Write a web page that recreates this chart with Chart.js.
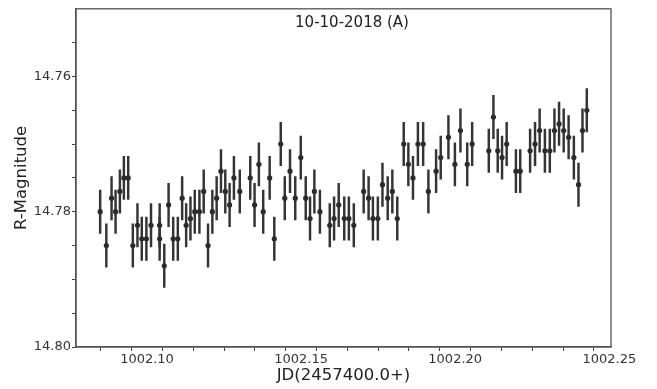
<!DOCTYPE html>
<html>
<head>
<meta charset="utf-8">
<script src="https://cdn.jsdelivr.net/npm/chart.js@4.4.1/dist/chart.umd.min.js"></script>
<style>
  html, body { margin: 0; padding: 0; background: #fff; }
</style>
</head>
<body>
<canvas id="lc" width="657" height="389"></canvas>
<script>
// light curve, R band, 10-10-2018 (A)
const jd = [
  1002.0848, 1002.0868, 1002.0885, 1002.0898, 1002.0912, 1002.0925, 1002.0939, 1002.0954,
  1002.0969, 1002.0983, 1002.0998, 1002.1013, 1002.1041, 1002.1041, 1002.1056, 1002.1070,
  1002.1085, 1002.1100, 1002.1114, 1002.1127, 1002.1141, 1002.1155, 1002.1170, 1002.1184,
  1002.1198, 1002.1212, 1002.1226, 1002.1240, 1002.1254, 1002.1268, 1002.1282, 1002.1301,
  1002.1335, 1002.1349, 1002.1363, 1002.1377, 1002.1398, 1002.1413, 1002.1434, 1002.1447,
  1002.1464, 1002.1481, 1002.1499, 1002.1515, 1002.1529, 1002.1543, 1002.1561, 1002.1593,
  1002.1607, 1002.1622, 1002.1640, 1002.1655, 1002.1671, 1002.1703, 1002.1719, 1002.1733,
  1002.1749, 1002.1764, 1002.1781, 1002.1796, 1002.1812, 1002.1833, 1002.1848, 1002.1863,
  1002.1879, 1002.1896, 1002.1913, 1002.1938, 1002.1953, 1002.1978, 1002.1999, 1002.2017,
  1002.2039, 1002.2055, 1002.2109, 1002.2124, 1002.2138, 1002.2152, 1002.2167, 1002.2197,
  1002.2211, 1002.2243, 1002.2259, 1002.2274, 1002.2291, 1002.2307, 1002.2322, 1002.2337,
  1002.2352, 1002.2368, 1002.2385, 1002.2400, 1002.2413, 1002.2427
];
const rMag = [
  14.780, 14.785, 14.778, 14.780, 14.777, 14.775, 14.775, 14.785,
  14.782, 14.784, 14.784, 14.782, 14.782, 14.784, 14.788, 14.779,
  14.784, 14.784, 14.778, 14.782, 14.781, 14.780, 14.780, 14.777,
  14.785, 14.780, 14.778, 14.774, 14.777, 14.779, 14.775, 14.777,
  14.775, 14.779, 14.773, 14.780, 14.775, 14.784, 14.770, 14.778,
  14.774, 14.778, 14.772, 14.778, 14.781, 14.777, 14.780, 14.782,
  14.781, 14.779, 14.781, 14.781, 14.782, 14.777, 14.778, 14.781,
  14.781, 14.776, 14.778, 14.777, 14.781, 14.770, 14.773, 14.775,
  14.770, 14.770, 14.777, 14.774, 14.772, 14.769, 14.773, 14.768,
  14.773, 14.770, 14.771, 14.766, 14.771, 14.772, 14.770, 14.774,
  14.774, 14.771, 14.770, 14.768, 14.771, 14.771, 14.768, 14.767,
  14.768, 14.769, 14.772, 14.776, 14.768, 14.765
];
const magErr = 0.0032;

const xTickLabels = [1002.10, 1002.15, 1002.20, 1002.25];
const yTickLabels = [14.76, 14.78, 14.80];
const plotTitle   = '10-10-2018 (A)';

const FONT   = 'DejaVu Sans';
const INK    = '#2b2b2e';
const AXISC  = '#444';

const points = jd.map((x, i) => ({ x, y: rMag[i] }));
const bars   = jd.map((x, i) => ({ x, y: [rMag[i] - magErr, rMag[i] + magErr] }));

const near = (arr, v) => arr.find(l => Math.abs(l - v) < 1e-6);

// snap generated ticks onto the minor grid (step given as 1/n), drop duplicates and out-of-range ones
const snapTicks = (s, n) => {
  const seen = new Set();
  s.ticks = s.ticks
    .map(t => ({ value: Math.round(t.value * n) / n }))
    .filter(t => t.value >= s.min - 1e-9 && t.value <= s.max + 1e-9 && !seen.has(t.value) && seen.add(t.value));
};

/* frame + title inside the plot */
const framePlugin = {
  id: 'frame',
  afterDraw(chart) {
    const { ctx, chartArea: a } = chart;
    ctx.save();
    ctx.strokeStyle = '#555';
    ctx.lineWidth = 1.3;
    ctx.strokeRect(a.left, a.top, a.right - a.left, a.bottom - a.top);
    ctx.fillStyle = '#222';
    ctx.font = `15px "${FONT}"`;
    ctx.textAlign = 'center';
    ctx.textBaseline = 'middle';
    ctx.fillText(plotTitle, 352, a.top + 14);
    ctx.restore();
  }
};

new Chart(document.getElementById('lc'), {
  type: 'scatter',
  data: {
    datasets: [
      {
        type: 'scatter', data: points, order: 0,
        pointRadius: 2.6, pointHoverRadius: 2.6,
        backgroundColor: INK, borderWidth: 0,
      },
      {
        type: 'bar', data: bars, order: 1,
        barThickness: 1.8, backgroundColor: '#343438',
        borderWidth: 0, borderSkipped: false, grouped: false,
      },
    ],
  },
  options: {
    responsive: false,
    animation: false,
    layout: { padding: { left: 0, top: 3, right: 46, bottom: 0 } },
    plugins: { legend: { display: false }, tooltip: { enabled: false } },
    scales: {
      x: {
        type: 'linear', offset: false,
        min: 1002.07696, max: 1002.25055,
        afterFit: s => { s.height = 42; },
        afterBuildTicks: s => snapTicks(s, 100),
        ticks: {
          stepSize: 0.01, autoSkip: false, maxRotation: 0, padding: 1,
          color: '#333', font: { family: FONT, size: 13 },
          callback: v => { const m = near(xTickLabels, v); return m ? m.toFixed(2) : ''; },
        },
        grid: { display: true, drawOnChartArea: false, drawTicks: true, tickLength: 4, tickColor: AXISC },
        border: { display: true, color: AXISC, width: 1.3 },
        title: {
          display: true, text: 'JD(2457400.0+)', color: '#222',
          font: { family: FONT, size: 16.5 }, padding: { top: 0, bottom: 3 },
        },
      },
      y: {
        reverse: true,
        min: 14.75, max: 14.80,
        afterFit: s => { s.width = 76; },
        afterBuildTicks: s => {
          snapTicks(s, 200);
          s.ticks = s.ticks.filter(t => t.value > 14.7501);
        },
        ticks: {
          stepSize: 0.005, autoSkip: false, padding: 1,
          color: '#333', font: { family: FONT, size: 13 },
          callback: v => { const m = near(yTickLabels, v); return m ? m.toFixed(2) : ''; },
        },
        grid: { display: true, drawOnChartArea: false, drawTicks: true, tickLength: 4, tickColor: AXISC },
        border: { display: true, color: AXISC, width: 1.3 },
        title: {
          display: true, text: 'R-Magnitude', color: '#222',
          font: { family: FONT, size: 16.5 }, padding: { top: 12, bottom: 0 },
        },
      },
    },
  },
  plugins: [framePlugin],
});
</script>
</body>
</html>
